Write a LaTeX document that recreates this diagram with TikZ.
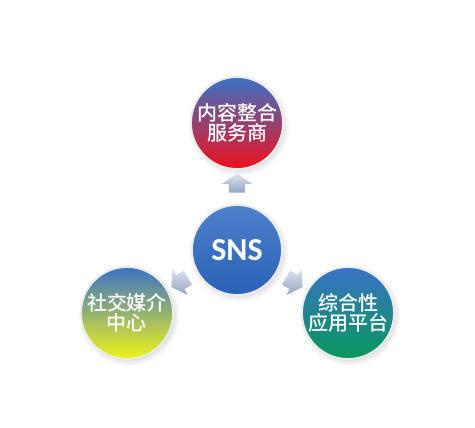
\documentclass[tikz,border=0pt]{standalone}
\usepackage{fontspec}
\newfontfamily\cjk{Noto Sans CJK SC}[BoldFont={Noto Sans CJK SC Medium}]
\newfontfamily\lat{Carlito}
\usetikzlibrary{shapes.arrows,shadows}

\definecolor{ballblue}{HTML}{2A62B6}
\definecolor{balltop}{HTML}{3A72C6}
\definecolor{ballred}{HTML}{F0101A}
\definecolor{ballyellow}{HTML}{F0F41A}
\definecolor{ballgreen}{HTML}{06985A}
\definecolor{arrowlight}{HTML}{DDE3EE}
\definecolor{arrowdark}{HTML}{95A4C2}

\tikzset{
  ball/.style={circle,minimum size=92pt,inner sep=0pt,draw=white!85!gray,line width=1.8pt,
    text=white,align=center,
    circular drop shadow={shadow xshift=1.5pt,shadow yshift=-2pt,opacity=0.25}},
  zh/.style={font=\cjk\bfseries\fontsize{20}{20}\selectfont},
  blockarrow/.style={single arrow,draw=none,inner xsep=0pt,inner ysep=8pt,minimum height=19pt,
    single arrow head extend=7pt,single arrow tip angle=112,
    top color=arrowlight,bottom color=arrowdark}
}

\begin{document}
\begin{tikzpicture}[x=1pt,y=1pt]
    \fill[white] (0,0) rectangle (475,428);
    \useasboundingbox (0,0) rectangle (475,428);
    \node[ball,zh,top color=balltop,bottom color=ballred] (content) at (237,305) {内容整合\\服务商};
    \node[ball,top color=balltop!90!white,bottom color=ballblue,font=\lat\bfseries\fontsize{32}{32}\selectfont,minimum size=90pt] (sns) at (237,178) {SNS};
    \node[ball,zh,top color=balltop,bottom color=ballyellow] (media) at (127,115) {社交媒介\\中心};
    \node[ball,zh,top color=balltop,bottom color=ballgreen] (platform) at (348,115) {综合性\\应用平台};
    \node[blockarrow,rotate=90] (up) at (237,242) {};
    \node[blockarrow,rotate=210] (toleft) at (182,147) {};
    \node[blockarrow,rotate=-30] (toright) at (292,147) {};
\end{tikzpicture}
\end{document}
